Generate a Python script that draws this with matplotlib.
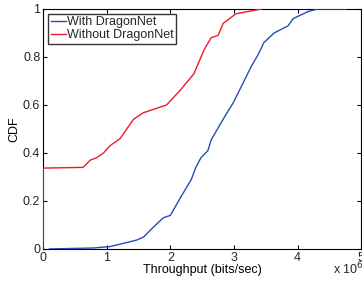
import matplotlib.pyplot as plt

plt.rcParams['font.family'] = ['Liberation Sans', 'DejaVu Sans']
plt.rcParams['text.color'] = '#262626'
plt.rcParams['xtick.labelcolor'] = '#262626'
plt.rcParams['ytick.labelcolor'] = '#262626'

# throughput in units of 1e6 bits/sec, CDF values
with_x = [0.1, 0.79, 1.05, 1.21, 1.47, 1.58, 1.73, 1.89, 2.0, 2.15, 2.33, 2.4, 2.48,
          2.59, 2.64, 2.85, 2.99, 3.14, 3.27, 3.38, 3.47, 3.63, 3.85, 3.93, 4.17, 4.32, 4.76]
with_y = [0.0, 0.004, 0.01, 0.02, 0.037, 0.05, 0.09, 0.13, 0.14, 0.21, 0.29, 0.34, 0.38,
          0.41, 0.454, 0.55, 0.61, 0.69, 0.76, 0.81, 0.86, 0.90, 0.93, 0.96, 0.99, 1.0, 1.0]

without_x = [0.0, 0.0, 0.63, 0.74, 0.84, 0.95, 1.05, 1.21, 1.42, 1.57, 1.94, 2.15, 2.37,
             2.53, 2.64, 2.75, 2.83, 3.03, 3.43]
without_y = [0.0, 0.337, 0.34, 0.37, 0.38, 0.40, 0.43, 0.46, 0.54, 0.567, 0.6, 0.66, 0.73,
             0.83, 0.88, 0.89, 0.94, 0.98, 1.0]

fig = plt.figure(figsize=(3.62, 2.81), dpi=100)
ax = fig.add_axes([0.119, 0.114, 0.879, 0.854])

ax.plot(with_x, with_y, color='#2250b0', lw=1, label='With DragonNet', zorder=3)
ax.plot(without_x, without_y, color='#ee1c24', lw=1, label='Without DragonNet', zorder=3)

ax.set_xlim(0, 5)
ax.set_ylim(0, 1)
ax.set_xticks([0, 1, 2, 3, 4, 5])
ax.set_yticks([0, 0.2, 0.4, 0.6, 0.8, 1])
ax.set_yticklabels(['0', '0.2', '0.4', '0.6', '0.8', '1'])
ax.tick_params(direction='in', top=True, right=True, labelsize=9, length=3, pad=2)
ax.set_xlabel('Throughput (bits/sec)', fontsize=9, labelpad=0)
ax.set_ylabel('CDF', fontsize=9, labelpad=2)
ax.text(0.91, -0.05, r'x 10$^6$', transform=ax.transAxes, ha='left', va='top', fontsize=9)

leg = ax.legend(loc='upper left', fontsize=9, handlelength=1.2, handletextpad=0.1,
                borderpad=0.2, labelspacing=0.05, borderaxespad=0.4, fancybox=False)
leg.get_frame().set_edgecolor('black')
leg.get_frame().set_linewidth(1)

fig.savefig('out.png', dpi=100)
